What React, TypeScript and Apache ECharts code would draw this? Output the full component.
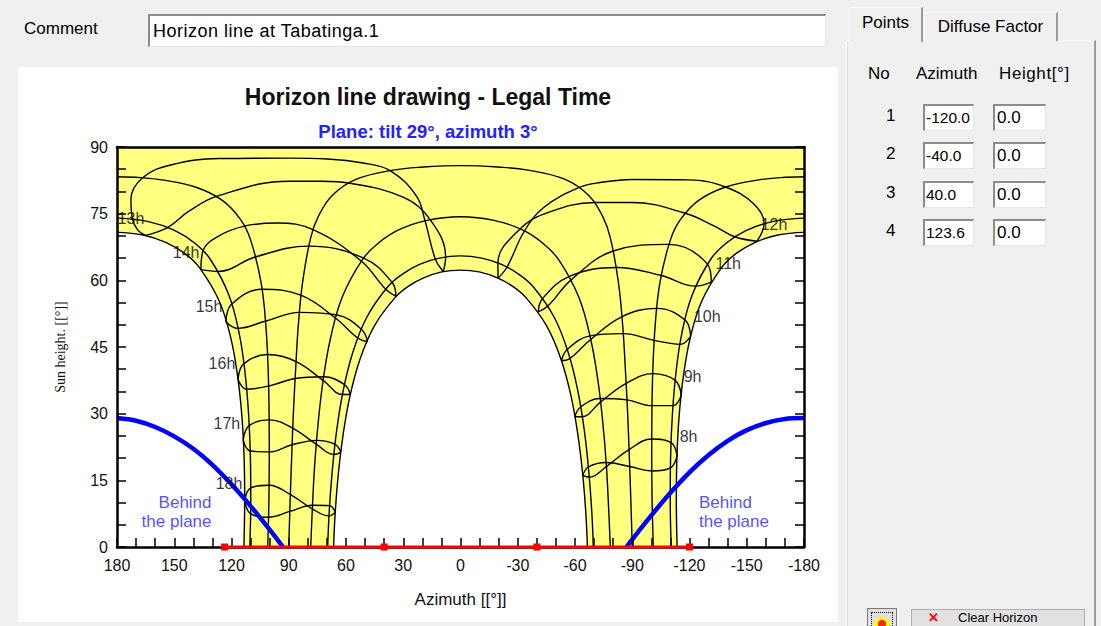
import React, { useEffect, useRef } from "react";
import * as echarts from "echarts";

const FONT = 'Arial, "Liberation Sans", Helvetica, sans-serif';

// ---------- sun paths (azimuth [°], sun height [°]) ----------
const pathJun = [[66.5,0],[65.7,7.4],[64.0,16.5],[61.5,25.3],[57.9,34.0],[52.7,42.2],[45.2,49.7],[34.3,56.1],[27.2,58.7],[19.0,60.6],[9.8,61.9],[0,62.3],[-9.8,61.9],[-19.0,60.6],[-27.2,58.7],[-34.3,56.1],[-45.2,49.7],[-52.7,42.2],[-57.9,34.0],[-61.5,25.3],[-64.0,16.5],[-65.7,7.4],[-66.5,0]];
const pathMayJul = [[69.6,0],[68.8,7.9],[67.2,17.1],[64.9,26.2],[61.5,35.1],[56.5,43.7],[49.1,51.7],[38.0,58.6],[30.4,61.4],[21.5,63.6],[11.1,65.0],[0,65.5],[-11.1,65.0],[-21.5,63.6],[-30.4,61.4],[-38.0,58.6],[-49.1,51.7],[-56.5,43.7],[-61.5,35.1],[-64.9,26.2],[-67.2,17.1],[-68.8,7.9],[-69.6,0]];
const pathAprAug = [[78.5,0],[77.6,8.9],[76.4,18.6],[74.5,28.3],[71.9,37.8],[68.0,47.2],[61.9,56.3],[51.5,64.6],[43.3,68.3],[32.2,71.4],[17.5,73.5],[0,74.3],[-17.5,73.5],[-32.2,71.4],[-43.3,68.3],[-51.5,64.6],[-61.9,56.3],[-68.0,47.2],[-71.9,37.8],[-74.5,28.3],[-76.4,18.6],[-77.6,8.9],[-78.5,0]];
const pathMarSep = [[90,0],[89.3,10.0],[88.5,19.9],[87.6,29.9],[86.4,39.9],[85.0,49.8],[82.7,59.7],[78.5,69.6],[74.5,74.4],[67.2,79.1],[54.8,82.7],[35.3,84.8],[19.5,85.5],[0,85.8],[-19.5,85.5],[-35.3,84.8],[-54.8,82.7],[-67.2,79.1],[-74.5,74.4],[-78.5,69.6],[-82.7,59.7],[-85.0,49.8],[-86.4,39.9],[-87.6,29.9],[-88.5,19.9],[-89.3,10.0],[-90,0]];
const pathFebOctPM = [[180,83.3],[167.7,83.1],[156.4,82.6],[139.0,81.0],[124.8,78.0],[115.3,73.7],[110.0,69.1],[104.5,59.5],[102.0,49.8],[100.8,40.0],[100.3,30.2],[100.2,20.4],[100.4,10.6],[101.0,0]];
const pathFebOctAM = [[-101.0,0],[-100.4,10.6],[-100.2,20.4],[-100.3,30.2],[-100.8,40.0],[-102.0,49.8],[-104.5,59.5],[-110.0,69.1],[-115.3,73.7],[-124.8,78.0],[-139.0,81.0],[-156.4,82.6],[-167.7,83.1],[-180,83.3]];
const pathJanNovPM = [[180,74.0],[163.5,73.2],[149.6,71.2],[139.0,68.3],[131.2,64.8],[121.4,56.7],[115.9,47.9],[112.8,38.8],[111.0,29.6],[110.1,20.2],[109.9,10.8],[110.4,0]];
const pathJanNovAM = [[-110.4,0],[-109.9,10.8],[-110.1,20.2],[-111.0,29.6],[-112.8,38.8],[-115.9,47.9],[-121.4,56.7],[-131.2,64.8],[-139.0,68.3],[-149.6,71.2],[-163.5,73.2],[-180,74.0]];
const pathDecPM = [[180,70.8],[166.3,70.2],[154.2,68.5],[144.3,66.0],[136.7,62.8],[126.4,55.3],[120.3,46.9],[116.7,38.1],[114.5,29.1],[113.4,20.0],[113.1,10.9],[113.5,0]];
const pathDecAM = [[-113.5,0],[-113.1,10.9],[-113.4,20.0],[-114.5,29.1],[-116.7,38.1],[-120.3,46.9],[-126.4,55.3],[-136.7,62.8],[-144.3,66.0],[-154.2,68.5],[-166.3,70.2],[-180,70.8]];

// ---------- hour lines (legal time), two halves of the year ----------
const hour08a = [[-113.5,20.5],[-110.0,17.8],[-100.3,17.1],[-88.6,18.1],[-76.3,19.0],[-67.0,18.0],[-64.1,16.1]];
const hour08b = [[-64.1,16.1],[-67.5,15.7],[-76.4,18.1],[-88.3,21.9],[-100.2,24.3],[-110.4,23.5],[-113.5,20.5]];
const hour09a = [[-115.7,34.1],[-111.4,31.8],[-100.4,31.8],[-87.2,33.1],[-73.1,33.4],[-62.9,31.5],[-59.9,29.3]];
const hour09b = [[-59.9,29.3],[-63.7,29.3],[-73.3,32.6],[-86.8,36.8],[-100.8,39.0],[-112.5,37.5],[-115.7,34.1]];
const hour10a = [[-120.6,47.4],[-115.1,45.6],[-101.6,46.5],[-85.2,48.0],[-67.8,47.5],[-55.8,44.4],[-52.9,41.9]];
const hour10b = [[-52.9,41.9],[-57.3,42.4],[-68.2,46.7],[-84.5,51.8],[-103.0,53.7],[-117.8,51.0],[-120.6,47.4]];
const hour11a = [[-131.4,59.6],[-123.2,58.7],[-105.2,61.1],[-81.7,62.9],[-57.1,60.9],[-43.0,55.9],[-40.7,52.9]];
const hour11b = [[-40.7,52.9],[-45.8,54.2],[-58.0,60.1],[-80.1,66.6],[-109.2,68.1],[-129.3,63.7],[-131.4,59.6]];
const hour12a = [[-155.4,68.8],[-143.7,69.8],[-132.6,72.3],[-117.8,75.1],[-90.0,77.5],[-70.5,77.5],[-46.0,75.3],[-31.3,71.6],[-19.6,63.9],[-19.7,60.5]];
const hour12b = [[-19.7,60.5],[-24.4,63.0],[-33.5,71.1],[-43.9,76.5],[-62.3,80.9],[-73.2,82.0],[-90.0,82.7],[-119.7,82.6],[-138.8,81.0],[-153.7,77.2],[-159.1,72.8],[-155.4,68.8]];
const hour13a = [[165.0,70.1],[169.1,71.3],[171.9,73.8],[172.7,78.2],[166.6,83.1],[151.3,86.0],[126.2,87.4],[90.0,87.5],[69.8,87.3],[51.1,86.4],[36.9,84.7],[23.0,78.9],[18.6,73.4],[13.2,64.8],[9.0,62.0]];
const hour13b = [[9.0,62.0],[7.8,65.2],[15.8,73.6],[30.1,78.7],[58.7,81.9],[72.5,82.3],[90.0,82.3],[127.8,78.9],[142.5,75.5],[153.3,71.9],[165.0,70.1]];
const hour14a = [[136.0,62.4],[134.9,66.7],[127.0,69.9],[113.2,72.2],[95.9,72.9],[77.3,71.4],[51.9,64.3],[39.2,58.0],[33.8,56.4]];
const hour14b = [[33.8,56.4],[35.8,59.5],[50.7,65.0],[79.6,67.7],[107.3,65.3],[127.0,62.0],[136.0,62.4]];
const hour15a = [[123.0,50.7],[120.0,54.6],[104.1,58.0],[83.4,56.6],[65.2,51.4],[53.5,46.9],[48.7,46.2]];
const hour15b = [[48.7,46.2],[51.7,48.9],[64.6,52.2],[84.3,52.8],[102.3,50.8],[116.7,49.2],[123.0,50.7]];
const hour16a = [[116.6,37.7],[113.6,41.2],[101.2,43.3],[86.2,41.7],[72.0,37.5],[61.8,34.3],[57.7,34.3]];
const hour16b = [[57.7,34.3],[60.7,36.5],[71.7,38.3],[86.7,37.9],[100.6,36.2],[112.1,35.5],[116.6,37.7]];
const hour17a = [[113.9,24.1],[110.8,27.3],[100.3,28.6],[87.8,26.7],[75.5,23.1],[66.3,20.8],[62.7,21.3]];
const hour17b = [[62.7,21.3],[65.7,23.1],[75.3,24.0],[88.2,23.0],[100.2,21.4],[110.2,21.6],[113.9,24.1]];
const hour18a = [[113.1,10.4],[109.9,13.3],[100.3,13.9],[89.1,11.8],[77.7,8.6],[68.9,7.0],[65.6,7.8]];
const hour18b = [[65.6,7.8],[68.6,9.3],[77.6,9.4],[89.4,8.0],[100.6,6.7],[110.0,7.5],[113.1,10.4]];

const hourLabelNames = ["8h", "9h", "10h", "11h", "12h", "13h", "14h", "15h", "16h", "17h", "18h"];
const hourLabelAz = [-119.5, -121.6, -129.3, -140.3, -164.3, 172.7, 143.8, 131.8, 125.0, 122.4, 121.3];
const hourLabelH = [24.8, 38.3, 51.8, 63.9, 72.5, 74.0, 66.2, 54.1, 41.4, 27.9, 14.2];

// ---------- "behind the plane" limit (plane tilt 29°, azimuth 3°) ----------
const behindLeft = [[180,29.0],[170,28.4],[160,27.0],[150,24.9],[140,22.1],[130,18.5],[120,14.1],[110,9.2],[100,3.9],[93,0]];
const behindRight = [[-87,0],[-90,1.7],[-100,7.1],[-110,12.2],[-120,16.8],[-130,20.7],[-140,23.9],[-150,26.3],[-160,27.9],[-170,28.8],[-180,29.0]];
const behindText = "Behind\nthe plane";
const behindAz = [130.2, -124.7];
const behindH = [7.8, 7.8];

// ---------- horizon points (table) ----------
const horizonNo = [1, 2, 3, 4];
const horizonAz = [-120.0, -40.0, 40.0, 123.6];
const horizonHeight = [0.0, 0.0, 0.0, 0.0];

const YELLOW = "#ffff80";

function buildOption() {
  const blackLine = (data: number[][]) => ({
    type: "line",
    data,
    smooth: 0.4,
    symbol: "none",
    silent: true,
    lineStyle: { color: "#000", width: 1.4 },
    z: 3,
  });
  const datePaths = [pathJun, pathMayJul, pathAprAug, pathMarSep, pathFebOctPM, pathFebOctAM, pathJanNovPM, pathJanNovAM, pathDecPM, pathDecAM];
  const hourLines = [hour08a, hour08b, hour09a, hour09b, hour10a, hour10b, hour11a, hour11b, hour12a, hour12b, hour13a, hour13b, hour14a, hour14b, hour15a, hour15b, hour16a, hour16b, hour17a, hour17b, hour18a, hour18b];
  const horizonPts = horizonAz.map((a, i) => [a, horizonHeight[i]]).sort((p, q) => q[0] - p[0]);

  const yellowArea = (data: number[][], smooth: number) => ({
    type: "line",
    data,
    smooth,
    symbol: "none",
    silent: true,
    lineStyle: { width: 0, opacity: 0 },
    areaStyle: { color: YELLOW, opacity: 1, origin: "end" },
    z: 1,
  });

  const series: any[] = [
    yellowArea(pathDecPM, 0.4),
    yellowArea(pathDecAM, 0.4),
    yellowArea([pathDecPM[pathDecPM.length - 1], pathDecAM[0]], 0),
    {
      type: "line",
      data: pathJun,
      smooth: 0.4,
      symbol: "none",
      silent: true,
      lineStyle: { width: 0, opacity: 0 },
      areaStyle: { color: "#ffffff", opacity: 1, origin: "start" },
      z: 1,
    },
    ...datePaths.map(blackLine),
    ...hourLines.map(blackLine),
    ...[behindLeft, behindRight].map((d) => ({
      type: "line",
      data: d,
      smooth: 0.3,
      symbol: "none",
      silent: true,
      lineStyle: { color: "#0000ff", width: 4.5 },
      z: 4,
    })),
    {
      type: "line",
      data: horizonPts,
      symbol: "rect",
      symbolSize: 7,
      silent: true,
      clip: false,
      lineStyle: { color: "#ff0000", width: 3 },
      itemStyle: { color: "#ff0000" },
      z: 20,
    },
    {
      type: "scatter",
      silent: true,
      symbolSize: 1,
      itemStyle: { color: "rgba(0,0,0,0)" },
      data: hourLabelNames.map((n, i) => ({ name: n, value: [hourLabelAz[i], hourLabelH[i]] })),
      label: { show: true, position: "inside", formatter: "{b}", fontSize: 16, color: "#000", fontFamily: FONT },
      z: 6,
    },
    {
      type: "scatter",
      silent: true,
      symbolSize: 1,
      itemStyle: { color: "rgba(0,0,0,0)" },
      data: [
        { name: behindText, value: [behindAz[0], behindH[0]], label: { position: "left", align: "right" } },
        { name: behindText, value: [behindAz[1], behindH[1]], label: { position: "right", align: "left" } },
      ],
      label: { show: true, formatter: "{b}", distance: 0, fontSize: 17, lineHeight: 19, color: "#1f1fff", fontFamily: FONT },
      z: 6,
    },
  ];

  const tickLabel = { fontSize: 16, color: "#111", fontFamily: FONT };
  return {
    animation: false,
    backgroundColor: "#ffffff",
    title: [
      { text: "Horizon line drawing - Legal Time", left: "center", top: 13, textStyle: { fontSize: 23, fontWeight: "bold", color: "#111", fontFamily: FONT } },
      { text: "Plane: tilt 29°, azimuth 3°", left: "center", top: 50, textStyle: { fontSize: 18.5, fontWeight: "bold", color: "#2222ff", fontFamily: FONT } },
    ],
    grid: { left: 99, top: 80, width: 687, height: 400, containLabel: false },
    xAxis: [
      {
        type: "value", min: -180, max: 180, interval: 10, inverse: true, position: "bottom", z: 10,
        axisLine: { show: true, onZero: false, lineStyle: { color: "#000", width: 2.5 } },
        axisTick: { show: true, inside: true, length: 9, lineStyle: { color: "#000", width: 1.5 } },
        axisLabel: { ...tickLabel, margin: 10, showMinLabel: true, showMaxLabel: true, formatter: (v: number) => (v % 30 === 0 ? String(v) : "") },
        splitLine: { show: false },
        name: "Azimuth [[°]]", nameLocation: "middle", nameGap: 44,
        nameTextStyle: { fontSize: 17, color: "#111", fontFamily: FONT },
      },
      {
        type: "value", min: -180, max: 180, inverse: true, position: "top", z: 10,
        axisLine: { show: true, onZero: false, lineStyle: { color: "#000", width: 2.5 } },
        axisTick: { show: false }, axisLabel: { show: false }, splitLine: { show: false },
      },
    ],
    yAxis: [
      {
        type: "value", min: 0, max: 90, interval: 5, position: "left", z: 10,
        axisLine: { show: true, onZero: false, lineStyle: { color: "#000", width: 2.5 } },
        axisTick: { show: true, inside: true, length: 9, lineStyle: { color: "#000", width: 1.5 } },
        axisLabel: { ...tickLabel, margin: 9, formatter: (v: number) => (v % 15 === 0 ? String(v) : "") },
        splitLine: { show: false },
        name: "Sun height. [[°]]", nameLocation: "middle", nameGap: 50, nameRotate: 90,
        nameTextStyle: { fontSize: 14, color: "#111", fontFamily: '"Liberation Serif", "Times New Roman", serif' },
      },
      {
        type: "value", min: 0, max: 90, interval: 5, position: "right", z: 10,
        axisLine: { show: true, onZero: false, lineStyle: { color: "#000", width: 2.5 } },
        axisTick: { show: true, inside: true, length: 9, lineStyle: { color: "#000", width: 1.5 } },
        axisLabel: { show: false }, splitLine: { show: false },
      },
    ],
    series,
  };
}

const sunken: React.CSSProperties = {
  position: "absolute",
  background: "#ffffff",
  borderTop: "2px solid #8c8c8c",
  borderLeft: "2px solid #8c8c8c",
  borderRight: "1px solid #e6e6e6",
  borderBottom: "1px solid #e6e6e6",
  boxSizing: "border-box",
  overflow: "hidden",
  whiteSpace: "nowrap",
  color: "#000",
};

export default function App() {
  const ref = useRef<HTMLDivElement>(null);
  useEffect(() => {
    if (!ref.current) return;
    const chart = echarts.init(ref.current, null, { renderer: "svg" });
    chart.setOption(buildOption() as any);
    return () => chart.dispose();
  }, []);

  const rowTop = [104, 142, 181, 219];

  return (
    <div style={{ position: "fixed", left: 0, top: 0, width: 1101, height: 626, background: "#f0f0f0", overflow: "hidden", fontFamily: FONT, color: "#000" }}>
      <div style={{ position: "absolute", left: 24, top: 19, fontSize: 17 }}>Comment</div>
      <div style={{ ...sunken, left: 148, top: 14, width: 678, height: 33, fontSize: 18, letterSpacing: 0.5, lineHeight: "30px", paddingLeft: 3 }}>
        Horizon line at Tabatinga.1
      </div>

      <div style={{ position: "absolute", left: 18, top: 67, width: 820, height: 555, background: "#ffffff" }} />
      <div ref={ref} style={{ position: "absolute", left: 18, top: 67, width: 820, height: 555 }} />

      {/* tab page */}
      <div style={{ position: "absolute", left: 846, top: 40, width: 250, height: 600, background: "#f0f0f0", borderLeft: "1px solid #ffffff", borderTop: "1px solid #ffffff", borderRight: "2px solid #9a9a9a", boxSizing: "border-box", boxShadow: "inset 1px 0 0 #e0e0e0" }} />
      <div style={{ position: "absolute", left: 924, top: 12, width: 134, height: 29, background: "#f0f0f0", borderLeft: "1px solid #ffffff", borderTop: "1px solid #ffffff", borderRight: "2px solid #9a9a9a", boxSizing: "border-box", fontSize: 17, lineHeight: "28px", textAlign: "center" }}>
        Diffuse Factor
      </div>
      <div style={{ position: "absolute", left: 849, top: 7, width: 74, height: 35, background: "#f0f0f0", borderLeft: "1px solid #ffffff", borderTop: "1px solid #ffffff", borderRight: "2px solid #9a9a9a", boxSizing: "border-box", fontSize: 17, lineHeight: "30px", textAlign: "center" }}>
        Points
      </div>

      <div style={{ position: "absolute", left: 868, top: 64, fontSize: 17 }}>No</div>
      <div style={{ position: "absolute", left: 916, top: 64, fontSize: 17 }}>Azimuth</div>
      <div style={{ position: "absolute", left: 999, top: 64, fontSize: 17, letterSpacing: 0.6 }}>Height[°]</div>

      {horizonNo.map((n, i) => (
        <React.Fragment key={n}>
          <div style={{ position: "absolute", left: 886, top: rowTop[i] + 2, fontSize: 17 }}>{n}</div>
          <div style={{ ...sunken, left: 923, top: rowTop[i], width: 51, height: 27, fontSize: 15.5, lineHeight: "24px", paddingLeft: 1 }}>
            {horizonAz[i].toFixed(1)}
          </div>
          <div style={{ ...sunken, left: 993, top: rowTop[i], width: 53, height: 27, fontSize: 17, lineHeight: "24px", paddingLeft: 2 }}>
            {horizonHeight[i].toFixed(1)}
          </div>
        </React.Fragment>
      ))}

      {/* bottom buttons (at the window's lower edge) */}
      <div style={{ position: "absolute", left: 867, top: 608, width: 30, height: 30, background: "#e1e1e1", border: "1px solid #7a7a7a", boxSizing: "border-box" }}>
        <div style={{ position: "absolute", left: 3, top: 3, width: 22, height: 22, border: "1px dotted #000", boxSizing: "border-box" }} />
        <div style={{ position: "absolute", left: 6, top: 8, width: 16, height: 16, borderRadius: 8, background: "#ffff00" }} />
        <div style={{ position: "absolute", left: 10, top: 11, width: 8, height: 8, borderRadius: 4, background: "#ff2020" }} />
      </div>
      <div style={{ position: "absolute", left: 911, top: 609, width: 174, height: 30, background: "#e1e1e1", border: "1px solid #adadad", boxSizing: "border-box", fontSize: 13, lineHeight: "14px", whiteSpace: "nowrap" }}>
        <span style={{ position: "absolute", left: 16, top: 1, color: "#ff0000", fontWeight: "bold" }}>✕</span>
        <span style={{ position: "absolute", left: 46, top: 1 }}>Clear Horizon</span>
      </div>
    </div>
  );
}
